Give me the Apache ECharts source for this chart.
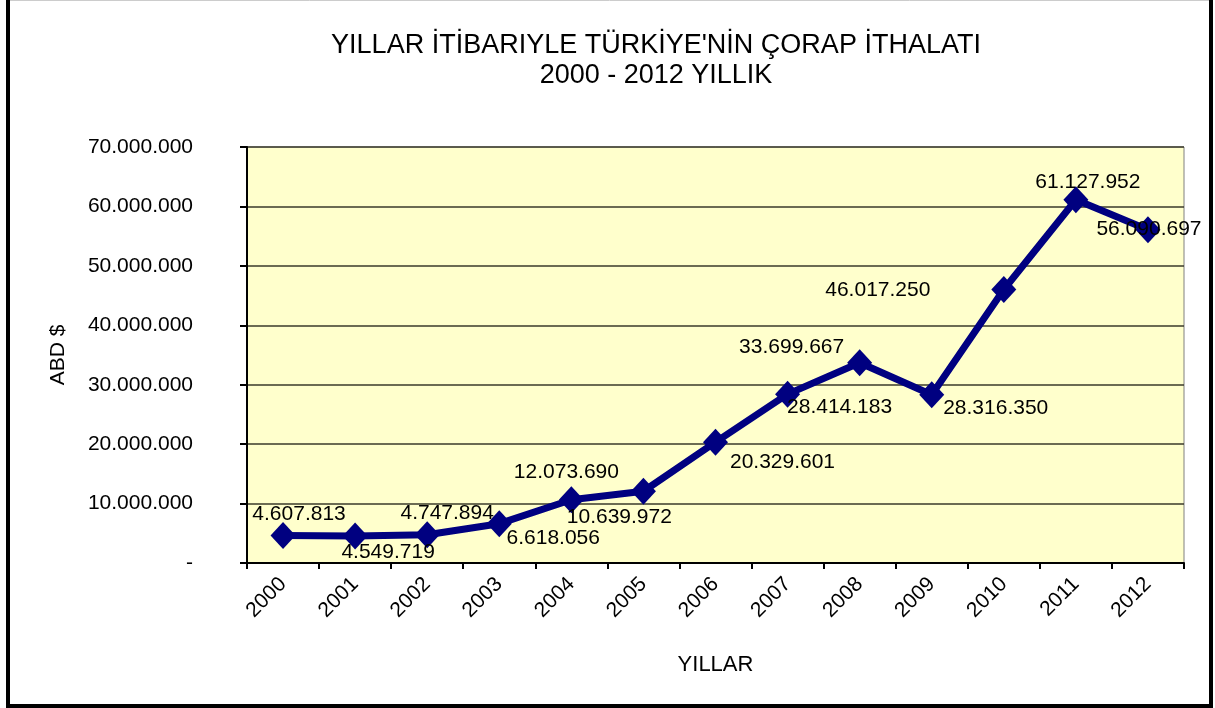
<!DOCTYPE html>
<html>
<head>
<meta charset="utf-8">
<script src="https://cdn.jsdelivr.net/npm/echarts@6/dist/echarts.min.js"></script>
<style>
html,body{margin:0;padding:0;background:#fff;}
#c{width:1215px;height:708px;}
</style>
</head>
<body>
<div id="c"></div>
<script>
// ---- data ----
const years = ['2000','2001','2002','2003','2004','2005','2006','2007','2008','2009','2010','2011','2012'];
const imports = [4607813, 4549719, 4747894, 6618056, 10639972, 12073690, 20329601, 28414183, 33699667, 28316350, 46017250, 61127952, 56090697];
const yTicks = [0, 10000000, 20000000, 30000000, 40000000, 50000000, 60000000, 70000000];
const titleLines = ["YILLAR İTİBARIYLE TÜRKİYE'NİN ÇORAP İTHALATI", "2000 - 2012 YILLIK"];

// label placement (style), as in the original sheet
const labelOffsets = [[16,-21],[33,16],[20,-22],[54,15],[48,17],[-77,-19],[67,20],[52,13],[-68,-16],[64,13],[-126,1],[12,-18],[1,0]];

function fmt(v){
  if (v === 0) return '-';
  return String(Math.round(v)).replace(/\B(?=(\d{3})+(?!\d))/g, '.');
}

const FONT = '"Liberation Sans", Arial, sans-serif';
const chart = echarts.init(document.getElementById('c'), null, {renderer:'canvas'});

chart.setOption({
  animation:false,
  backgroundColor:'#ffffff',
  title:{
    text: titleLines.join('\n'),
    left: 651, top: 26, textAlign:'center',
    textStyle:{fontFamily:FONT, fontSize:27, fontWeight:'normal', color:'#000', lineHeight:30, align:'center'}
  },
  grid:{left:247, right:31, top:147, bottom:145, show:true, backgroundColor:'#FFFFCC', borderColor:'#808080', borderWidth:1},
  xAxis:{
    type:'category', data: years, boundaryGap:true,
    name:'YILLAR', nameLocation:'middle', nameGap:91,
    nameTextStyle:{fontFamily:FONT, fontSize:22, color:'#000'},
    axisLine:{lineStyle:{color:'#000', width:2}},
    axisTick:{show:true, length:6, lineStyle:{color:'#000', width:2}, alignWithLabel:false},
    axisLabel:{rotate:45, margin:18, fontFamily:FONT, fontSize:21, color:'#000'},
    splitLine:{show:false}
  },
  yAxis:{
    type:'value', min:yTicks[0], max:yTicks[yTicks.length-1], interval:yTicks[1]-yTicks[0],
    name:'ABD $', nameLocation:'middle', nameGap:178, nameRotate:90,
    nameTextStyle:{fontFamily:FONT, fontSize:21, color:'#000'},
    axisLine:{show:true, lineStyle:{color:'#000', width:2}},
    axisTick:{show:true, length:7, lineStyle:{color:'#000', width:2}},
    axisLabel:{margin:54, fontFamily:FONT, fontSize:21, color:'#000', formatter: fmt},
    splitLine:{show:true, lineStyle:{color:'#3a3a2a', width:1.5}}
  },
  series:[{
    type:'line',
    data: imports.map((v,i)=>({value:v, label:{offset:labelOffsets[i]}})),
    lineStyle:{color:'#000080', width:7},
    itemStyle:{color:'#000080'},
    symbol:'diamond', symbolSize:[25,27],
    label:{show:true, position:'inside', fontFamily:FONT, fontSize:21, color:'#000', formatter:p=>fmt(p.value)},
    z:3
  }],
  graphic:[
    {type:'line', shape:{x1:8,y1:0,x2:8,y2:708}, style:{stroke:'#000', lineWidth:4}, silent:true},
    {type:'line', shape:{x1:1211,y1:0,x2:1211,y2:708}, style:{stroke:'#000', lineWidth:4}, silent:true},
    {type:'line', shape:{x1:6,y1:706,x2:1213,y2:706}, style:{stroke:'#000', lineWidth:4}, silent:true},
    {type:'line', shape:{x1:10,y1:0.5,x2:1209,y2:0.5}, style:{stroke:'#cccccc', lineWidth:1}, silent:true}
  ]
});
</script>
</body>
</html>
